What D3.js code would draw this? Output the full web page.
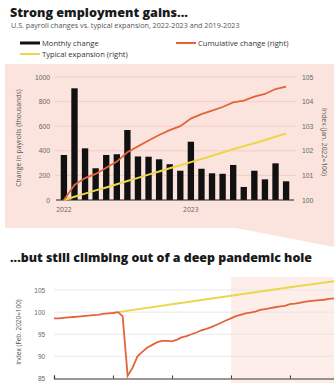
<!DOCTYPE html>
<html>
<head>
<meta charset="utf-8">
<script src="https://cdn.jsdelivr.net/npm/d3@7"></script>
<style>
  html, body { margin: 0; padding: 0; background: #fff; }
  svg { display: block; font-family: "Open Sans", "Noto Sans", sans-serif; }
  .tick text { fill: #666; }
</style>
</head>
<body>
<svg id="chart" width="334" height="383"></svg>
<script>
// ---- Top panel: monthly payroll changes, Jan 2022 – Oct 2023 ----
const months = ["2022-01","2022-02","2022-03","2022-04","2022-05","2022-06","2022-07","2022-08","2022-09","2022-10","2022-11","2022-12",
                "2023-01","2023-02","2023-03","2023-04","2023-05","2023-06","2023-07","2023-08","2023-09","2023-10"];
const monthlyChange = [366, 908, 420, 258, 366, 372, 569, 354, 352, 331, 291, 238,
                       474, 254, 217, 213, 285, 106, 238, 168, 298, 152];
const cumulativeIndex = [100.00, 100.61, 100.89, 101.06, 101.31, 101.56, 101.94, 102.18, 102.42, 102.64, 102.84, 103.00,
                         103.31, 103.49, 103.63, 103.78, 103.97, 104.04, 104.20, 104.31, 104.51, 104.61];
const typicalIndex = [100.00, 100.13, 100.26, 100.39, 100.51, 100.64, 100.77, 100.90, 101.03, 101.16, 101.29, 101.41,
                      101.54, 101.67, 101.80, 101.93, 102.06, 102.19, 102.31, 102.44, 102.57, 102.70];
const leftTicks = [0, 200, 400, 600, 800, 1000];
const rightTicks = [100, 101, 102, 103, 104, 105];
const yearLabels = [{ month: "2022-01", text: "2022" }, { month: "2023-01", text: "2023" }];

// ---- Bottom panel: payroll index, Jan 2019 – Oct 2023 (Feb 2020 = 100) ----
const longStart = "2019-01";
const longIndex = [
  98.6, 98.6, 98.7, 98.8, 98.9, 99.0, 99.1, 99.2, 99.3, 99.4, 99.6, 99.7,
  99.8, 100.0, 99.1, 85.6, 87.4, 90.0, 91.0, 92.0, 92.6, 93.2, 93.5, 93.5,
  93.4, 93.8, 94.3, 94.6, 95.0, 95.4, 95.9, 96.2, 96.6, 97.1, 97.6, 98.1,
  98.6, 99.1, 99.4, 99.7, 99.9, 100.1, 100.5, 100.7, 100.9, 101.1, 101.3, 101.4,
  101.8, 101.9, 102.1, 102.3, 102.5, 102.6, 102.7, 102.8, 103.0, 103.1
];
const typicalDates = ["2020-02", "2021-01", "2022-01", "2023-01", "2023-10"];
const typicalLong = [100.0, 101.8, 103.7, 105.6, 107.0];
const longTicks = [85, 90, 95, 100, 105];

const ORANGE = "#e4633b", YELLOW = "#ecd64c", PINK = "#fbe4dd", PINK2 = "#fdeee9";
const parseMonth = d3.timeParse("%Y-%m");
const fmt = d3.format("d");
const svg = d3.select("#chart");

// Highlight panel with its connector down to the 2022–2023 window below
svg.append("path")
  .attr("d", "M5,64 H334 V247 L236,228 H5 Z")
  .attr("fill", PINK);

// Titles and legend
svg.append("text").attr("x", 10).attr("y", 17)
  .attr("font-size", 12.6).attr("font-weight", 800).attr("fill", "#1a1a1a")
  .text("Strong employment gains...");
svg.append("text").attr("x", 11).attr("y", 28)
  .attr("font-size", 7.2).attr("fill", "#555")
  .text("U.S. payroll changes vs. typical expansion, 2022-2023 and 2019-2023");

const legendItems = [
  { label: "Monthly change", color: "#111", w: 3, x: 20, y: 43 },
  { label: "Cumulative change (right)", color: ORANGE, w: 2, x: 176, y: 43 },
  { label: "Typical expansion (right)", color: YELLOW, w: 2, x: 20, y: 54 }
];
const lg = svg.append("g").selectAll("g").data(legendItems).join("g")
  .attr("transform", d => `translate(${d.x},${d.y})`);
lg.append("line").attr("x1", 0).attr("x2", 20).attr("y1", 0).attr("y2", 0)
  .attr("stroke", d => d.color).attr("stroke-width", d => d.w);
lg.append("text").attr("x", 22).attr("y", 2.6)
  .attr("font-size", 7.6).attr("fill", "#333").text(d => d.label);

// ---- Top chart ----
const xB = d3.scaleBand().domain(months).range([56.5, 293.5]).padding(0.4);
const yL = d3.scaleLinear().domain([0, 1000]).range([200, 77]);
const yR = d3.scaleLinear().domain([100, 105]).range([200, 77]);

svg.append("g").selectAll("line").data(leftTicks.slice(1)).join("line")
  .attr("x1", 55).attr("x2", 296)
  .attr("y1", d => yL(d)).attr("y2", d => yL(d))
  .attr("stroke", "#f0c8be").attr("stroke-width", 0.8);

const axL = svg.append("g").attr("transform", "translate(55,0)")
  .call(d3.axisLeft(yL).tickValues(leftTicks).tickFormat(fmt).tickSize(0).tickPadding(5));
axL.select(".domain").remove();
axL.selectAll("text").attr("font-size", 6.8);

const axR = svg.append("g").attr("transform", "translate(296,0)")
  .call(d3.axisRight(yR).tickValues(rightTicks).tickFormat(fmt).tickSize(0).tickPadding(6));
axR.select(".domain").remove();
axR.selectAll("text").attr("font-size", 6.8);

svg.append("text")
  .attr("transform", "translate(21,138) rotate(-90)")
  .attr("text-anchor", "middle").attr("font-size", 6.8).attr("fill", "#555")
  .text("Change in payrolls (thousands)");
svg.append("text")
  .attr("transform", "translate(322,142) rotate(90)")
  .attr("text-anchor", "middle").attr("font-size", 6.8).attr("fill", "#555")
  .text("Index (Jan. 2022=100)");

svg.append("g").selectAll("rect").data(monthlyChange).join("rect")
  .attr("x", (d, i) => xB(months[i]))
  .attr("width", xB.bandwidth())
  .attr("y", d => yL(d))
  .attr("height", d => yL(0) - yL(d))
  .attr("fill", "#111");

svg.append("line").attr("x1", 56).attr("x2", 294)
  .attr("y1", yL(0)).attr("y2", yL(0)).attr("stroke", "#222").attr("stroke-width", 1);

const cx = m => xB(m) + xB.bandwidth() / 2;
const topLine = d3.line().x((d, i) => cx(months[i])).y(d => yR(d));
svg.append("path").datum(typicalIndex).attr("d", topLine)
  .attr("fill", "none").attr("stroke", YELLOW).attr("stroke-width", 2);
svg.append("path").datum(cumulativeIndex).attr("d", topLine)
  .attr("fill", "none").attr("stroke", ORANGE).attr("stroke-width", 1.8);

svg.append("g").selectAll("text").data(yearLabels).join("text")
  .attr("x", d => cx(d.month)).attr("y", 212)
  .attr("text-anchor", "middle").attr("font-size", 6.8).attr("fill", "#666")
  .text(d => d.text);

// ---- Bottom chart ----
svg.append("text").attr("x", 10).attr("y", 262)
  .attr("font-size", 12.4).attr("font-weight", 800).attr("fill", "#1a1a1a")
  .text("...but still climbing out of a deep pandemic hole");

const longDates = longIndex.map((d, i) => d3.timeMonth.offset(parseMonth(longStart), i));
const xT = d3.scaleTime().domain([parseMonth("2019-01"), parseMonth("2023-10")]).range([54, 334]);
const yT = d3.scaleLinear().domain([85, 105]).range([378.5, 290]);

svg.append("rect")
  .attr("x", xT(parseMonth("2022-01"))).attr("y", 277)
  .attr("width", 340 - xT(parseMonth("2022-01"))).attr("height", 106)
  .attr("fill", PINK2);

svg.append("g").selectAll("line").data(longTicks.slice(1)).join("line")
  .attr("x1", 54).attr("x2", 334)
  .attr("y1", d => yT(d)).attr("y2", d => yT(d))
  .attr("stroke", "#e3e3e3").attr("stroke-width", 0.8);

const axB = svg.append("g").attr("transform", "translate(50,0)")
  .call(d3.axisLeft(yT).tickValues(longTicks).tickFormat(fmt).tickSize(0).tickPadding(5));
axB.select(".domain").remove();
axB.selectAll("text").attr("font-size", 6.4);

svg.append("text")
  .attr("transform", "translate(21,332) rotate(-90)")
  .attr("text-anchor", "middle").attr("font-size", 6.4).attr("fill", "#555")
  .text("Index (Feb. 2020=100)");

const axX = svg.append("g").attr("transform", `translate(0,${yT(85)})`)
  .call(d3.axisBottom(xT).ticks(d3.timeYear.every(1)).tickSize(-3).tickFormat(""));
axX.select(".domain").attr("stroke", "#333").attr("stroke-width", 1.2);
axX.selectAll(".tick line").attr("stroke", "#333");

const longLine = d3.line().x((d, i) => xT(longDates[i])).y(d => yT(d));
svg.append("path").datum(typicalLong)
  .attr("d", d3.line().x((d, i) => xT(parseMonth(typicalDates[i]))).y(d => yT(d)))
  .attr("fill", "none").attr("stroke", YELLOW).attr("stroke-width", 2);
svg.append("path").datum(longIndex).attr("d", longLine)
  .attr("fill", "none").attr("stroke", ORANGE).attr("stroke-width", 1.8);
</script>
</body>
</html>
